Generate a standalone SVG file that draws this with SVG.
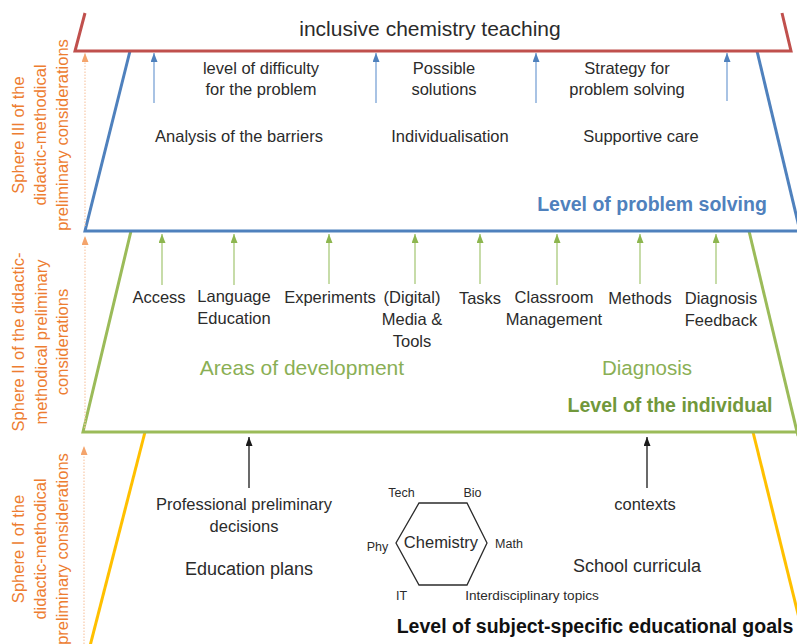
<svg xmlns="http://www.w3.org/2000/svg" width="797" height="644" viewBox="0 0 797 644">
  <style>
    text { font-family: "Liberation Sans", Arial, sans-serif; fill: #2b2b2b; }
    .body { font-size: 16.5px; text-anchor: middle; }
    .big { font-size: 18px; text-anchor: middle; }
    .small { font-size: 12.5px; }
    .sphere { font-size: 16.5px; fill: #ed7d31; text-anchor: middle; }
    .frame { fill: none; stroke-width: 3; stroke-linejoin: miter; }
    .red { stroke: #c0504d; }
    .blue { stroke: #4f81bd; }
    .green { stroke: #9bbb59; }
    .yellow { stroke: #ffc000; }
    .a-blue { stroke: #7aa3d6; stroke-width: 1.3; marker-end: url(#head-blue); }
    .a-green { stroke: #a9c97a; stroke-width: 1.3; marker-end: url(#head-green); }
    .a-black { stroke: #1a1a1a; stroke-width: 1.3; marker-end: url(#head-black); }
    .a-orange { stroke: #f8c9a8; stroke-width: 1.2; stroke-dasharray: 1.5 1.5; marker-end: url(#head-orange); }
  </style>
  <defs>
    <marker id="head-blue" markerUnits="userSpaceOnUse" markerWidth="10" markerHeight="8" refX="9" refY="3.5" orient="auto"><path d="M0,0 L9,3.5 L0,7 z" fill="#4f81bd"/></marker>
    <marker id="head-green" markerUnits="userSpaceOnUse" markerWidth="10" markerHeight="8" refX="9" refY="3.5" orient="auto"><path d="M0,0 L9,3.5 L0,7 z" fill="#8db64f"/></marker>
    <marker id="head-black" markerUnits="userSpaceOnUse" markerWidth="10" markerHeight="8" refX="9" refY="3.5" orient="auto"><path d="M0,0 L9,3.5 L0,7 z" fill="#1a1a1a"/></marker>
    <marker id="head-orange" markerUnits="userSpaceOnUse" markerWidth="10" markerHeight="8" refX="9" refY="3.5" orient="auto"><path d="M0,0 L9,3.5 L0,7 z" fill="#f4a46c"/></marker>
  </defs>

  <rect width="797" height="644" fill="#ffffff"/>

  <!-- Level frames (trapezoids, drawn as open outlines) -->
  <g id="level-subject-goals">
    <polyline class="frame yellow" points="90,646 145,432"/>
    <polyline class="frame yellow" points="753,432 806,646"/>
    <text x="595" y="633" style="font-size:19.5px;font-weight:bold;text-anchor:middle;fill:#111">Level of subject-specific educational goals</text>
  </g>

  <g id="level-individual">
    <polyline class="frame green" points="131,231 83,432 800,432"/>
    <polyline class="frame green" points="749,231 798,436"/>
    <text x="670" y="412" style="font-size:19.5px;font-weight:bold;text-anchor:middle;fill:#71983b">Level of the individual</text>
  </g>

  <g id="level-problem-solving">
    <polyline class="frame blue" points="130,51 85,231 800,231"/>
    <polyline class="frame blue" points="757,51 800,231"/>
    <text x="652" y="211" style="font-size:19.5px;font-weight:bold;text-anchor:middle;fill:#4f81bd">Level of problem solving</text>
  </g>

  <g id="inclusive-teaching">
    <polyline class="frame red" points="85,13 75,51 791,51 782,13"/>
    <text x="430" y="36" style="font-size:21px;text-anchor:middle">inclusive chemistry teaching</text>
  </g>

  <!-- Connectors -->
  <g id="connectors">
    <line class="a-orange" x1="85" y1="226" x2="85" y2="53"/>
    <line class="a-orange" x1="85" y1="428" x2="85" y2="236"/>
    <line class="a-orange" x1="84" y1="644" x2="84" y2="446"/>

    <line class="a-blue" x1="154" y1="103" x2="154" y2="53"/>
    <line class="a-blue" x1="376" y1="103" x2="376" y2="53"/>
    <line class="a-blue" x1="536" y1="103" x2="536" y2="53"/>
    <line class="a-blue" x1="727" y1="101" x2="727" y2="53"/>

    <line class="a-green" x1="162" y1="285" x2="162" y2="234"/>
    <line class="a-green" x1="234" y1="285" x2="234" y2="234"/>
    <line class="a-green" x1="329" y1="284" x2="329" y2="234"/>
    <line class="a-green" x1="415" y1="284" x2="415" y2="234"/>
    <line class="a-green" x1="480" y1="284" x2="480" y2="234"/>
    <line class="a-green" x1="557" y1="285" x2="557" y2="234"/>
    <line class="a-green" x1="640" y1="284" x2="640" y2="234"/>
    <line class="a-green" x1="716" y1="284" x2="716" y2="234"/>

    <line class="a-black" x1="249" y1="488" x2="249" y2="437"/>
    <line class="a-black" x1="647" y1="488" x2="647" y2="437"/>
  </g>

  <!-- Sphere labels on the left -->
  <g id="sphere-3">
    <text class="sphere" transform="translate(24,135) rotate(-90)">Sphere III of the</text>
    <text class="sphere" transform="translate(46,135) rotate(-90)">didactic-methodical</text>
    <text class="sphere" transform="translate(68,135) rotate(-90)">preliminary considerations</text>
  </g>
  <g id="sphere-2">
    <text class="sphere" transform="translate(24,342) rotate(-90)">Sphere II of the didactic-</text>
    <text class="sphere" transform="translate(47,342) rotate(-90)">methodical preliminary</text>
    <text class="sphere" transform="translate(68,342) rotate(-90)">considerations</text>
  </g>
  <g id="sphere-1">
    <text class="sphere" transform="translate(24,549) rotate(-90)">Sphere I of the</text>
    <text class="sphere" transform="translate(46,549) rotate(-90)">didactic-methodical</text>
    <text class="sphere" transform="translate(68,549) rotate(-90)">preliminary considerations</text>
  </g>

  <!-- Problem-solving level items -->
  <g id="difficulty">
    <text class="body" x="261" y="74">level of difficulty</text>
    <text class="body" x="261" y="95">for the problem</text>
  </g>
  <g id="solutions">
    <text class="body" x="444" y="74">Possible</text>
    <text class="body" x="444" y="95">solutions</text>
  </g>
  <g id="strategy">
    <text class="body" x="627" y="74">Strategy for</text>
    <text class="body" x="627" y="95">problem solving</text>
  </g>
  <g id="barriers"><text class="body" x="239" y="142">Analysis of the barriers</text></g>
  <g id="individualisation"><text class="body" x="450" y="142">Individualisation</text></g>
  <g id="supportive-care"><text class="body" x="641" y="142">Supportive care</text></g>

  <!-- Individual level items -->
  <g id="access"><text class="body" x="159" y="303">Access</text></g>
  <g id="language">
    <text class="body" x="234" y="302">Language</text>
    <text class="body" x="234" y="324">Education</text>
  </g>
  <g id="experiments"><text class="body" x="330" y="303">Experiments</text></g>
  <g id="media">
    <text class="body" x="412" y="303">(Digital)</text>
    <text class="body" x="412" y="325">Media &amp;</text>
    <text class="body" x="412" y="347">Tools</text>
  </g>
  <g id="tasks"><text class="body" x="480" y="304">Tasks</text></g>
  <g id="classroom">
    <text class="body" x="554" y="303">Classroom</text>
    <text class="body" x="554" y="325">Management</text>
  </g>
  <g id="methods"><text class="body" x="640" y="304">Methods</text></g>
  <g id="diagnosis-feedback">
    <text class="body" x="721" y="304">Diagnosis</text>
    <text class="body" x="721" y="326">Feedback</text>
  </g>
  <g id="areas"><text x="302" y="375" style="font-size:21px;text-anchor:middle;fill:#8aaf55">Areas of development</text></g>
  <g id="diagnosis"><text x="647" y="375" style="font-size:20.5px;text-anchor:middle;fill:#8aaf55">Diagnosis</text></g>

  <!-- Subject level items -->
  <g id="decisions">
    <text class="body" x="244" y="510">Professional preliminary</text>
    <text class="body" x="244" y="532">decisions</text>
  </g>
  <g id="education-plans"><text class="big" x="249" y="575">Education plans</text></g>
  <g id="contexts"><text class="body" x="645" y="510">contexts</text></g>
  <g id="curricula"><text class="big" x="637" y="572">School curricula</text></g>

  <g id="chemistry">
    <polygon points="419,503 467,503 487,543 467,585 419,585 396,543" fill="none" stroke="#2b2b2b" stroke-width="1.3"/>
    <text x="441" y="548" style="font-size:16.5px;text-anchor:middle">Chemistry</text>
    <text class="small" x="401.5" y="497" text-anchor="middle">Tech</text>
    <text class="small" x="472.5" y="497" text-anchor="middle">Bio</text>
    <text class="small" x="377.5" y="551" text-anchor="middle">Phy</text>
    <text class="small" x="509" y="548" text-anchor="middle">Math</text>
    <text class="small" x="401.5" y="600" text-anchor="middle">IT</text>
    <text x="532" y="600" style="font-size:13.6px;text-anchor:middle">Interdisciplinary topics</text>
  </g>
</svg>
